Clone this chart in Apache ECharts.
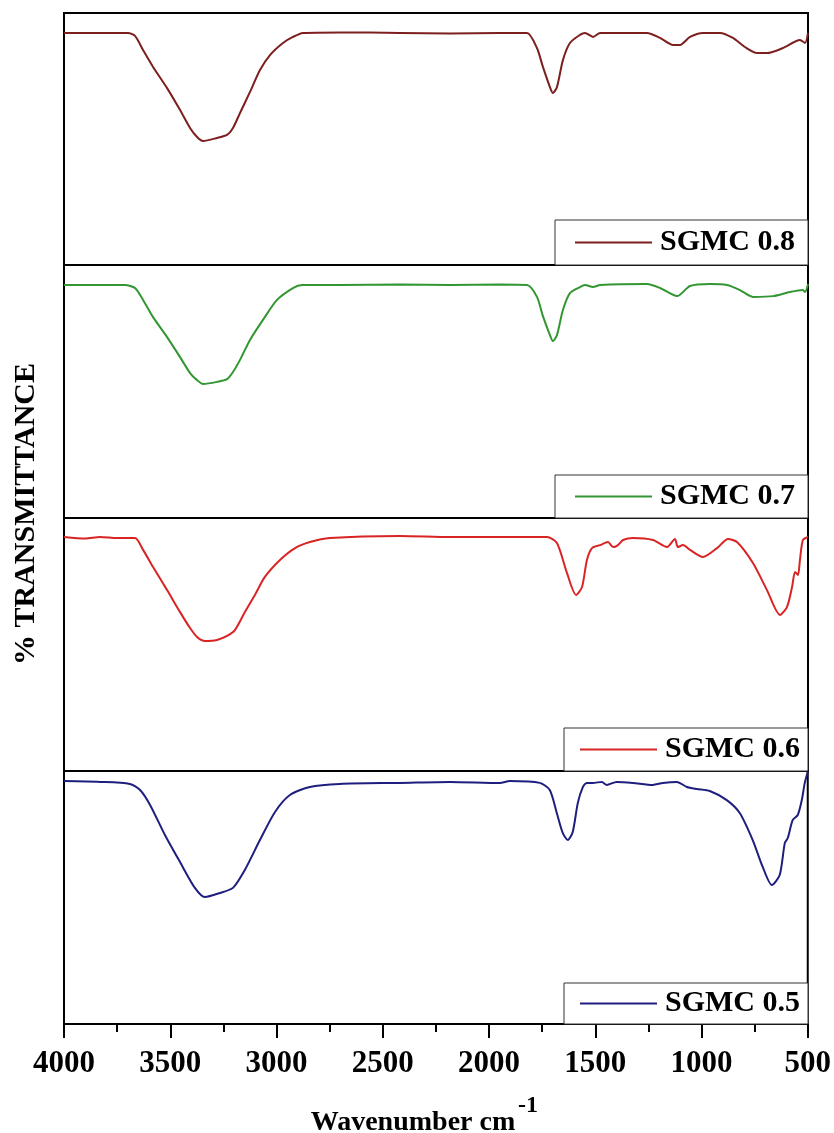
<!DOCTYPE html>
<html>
<head>
<meta charset="utf-8">
<script src="https://cdn.jsdelivr.net/npm/echarts@6/dist/echarts.min.js"></script>
<style>
  html, body { margin: 0; padding: 0; background: #fff; }
  #chart { width: 834px; height: 1133px; }
</style>
</head>
<body>
<div id="chart"></div>
<script>
// FTIR spectra of the SGMC samples: [wavenumber (cm-1), % transmittance]
const sgmc08 = [
  [4000, 92.1], [3831, 92.1], [3699, 92.1], [3666, 90.9], [3628, 85.3], [3581, 78.6],
  [3515, 70.2], [3454, 61.5], [3407, 54.4], [3374, 50.8], [3346, 49.2], [3280, 50.4],
  [3233, 51.6], [3205, 54.4], [3172, 60.3], [3125, 68.7], [3078, 77.4], [3031, 83.3],
  [2970, 88.1], [2923, 90.5], [2876, 92.1], [2702, 92.3], [2419, 92.1], [2184, 91.9],
  [1949, 92.1], [1822, 92.1], [1775, 86.1], [1747, 78.6], [1714, 70.6], [1700, 68.3],
  [1681, 70.6], [1653, 81.3], [1620, 88.1], [1573, 91.3], [1549, 92.1], [1511, 90.5],
  [1478, 92.1], [1257, 92.1], [1196, 90.1], [1135, 87.3], [1102, 87.3], [1055, 90.5],
  [994, 92.1], [914, 92.1], [853, 90.1], [797, 86.5], [740, 84.1], [693, 84.1],
  [618, 86.1], [538, 89.3], [514, 88.1], [500, 92.1]
];

const sgmc07 = [
  [4000, 92.1], [3831, 92.1], [3713, 92.1], [3666, 90.9], [3628, 86.2], [3581, 79.4],
  [3515, 71.5], [3454, 63.6], [3407, 57.3], [3374, 54.5], [3346, 53.0], [3280, 53.8],
  [3233, 54.9], [3205, 57.7], [3172, 62.5], [3125, 70.4], [3064, 78.3], [2998, 86.2],
  [2923, 90.9], [2880, 92.1], [2702, 92.1], [2419, 92.3], [2184, 92.1], [1949, 92.3],
  [1822, 92.1], [1775, 87.4], [1747, 79.8], [1714, 72.3], [1700, 69.9], [1681, 72.3],
  [1653, 82.2], [1620, 88.9], [1573, 91.3], [1549, 92.1], [1511, 91.3], [1478, 92.1],
  [1257, 92.5], [1196, 90.9], [1116, 87.7], [1055, 91.7], [961, 92.5], [881, 92.1],
  [820, 90.1], [759, 87.4], [664, 87.7], [585, 89.3], [524, 90.1], [514, 89.3],
  [500, 92.5]
];

const sgmc06 = [
  [4000, 92.5], [3900, 91.9], [3831, 92.5], [3750, 92.1], [3666, 92.1], [3628, 87.4],
  [3581, 80.6], [3515, 71.5], [3454, 62.8], [3407, 56.5], [3374, 53.0], [3337, 51.4],
  [3280, 51.8], [3233, 53.4], [3196, 55.7], [3149, 62.8], [3102, 69.6], [3055, 76.7],
  [2984, 83.4], [2913, 88.1], [2843, 90.5], [2749, 92.1], [2419, 92.9], [2184, 92.5],
  [1949, 92.5], [1728, 92.5], [1681, 90.1], [1634, 78.3], [1591, 69.6], [1563, 72.7],
  [1540, 83.4], [1516, 88.1], [1478, 89.3], [1441, 90.5], [1417, 88.5], [1394, 89.3],
  [1370, 91.3], [1323, 92.1], [1229, 91.3], [1163, 88.5], [1126, 91.7], [1112, 88.5],
  [1088, 89.3], [1055, 87.4], [994, 84.6], [928, 88.1], [876, 91.7], [834, 90.5],
  [759, 82.2], [693, 71.5], [632, 61.7], [599, 64.8], [575, 72.7], [561, 78.7],
  [547, 77.5], [538, 83.4], [524, 91.3], [500, 92.5]
];

const sgmc05 = [
  [4000, 96.0], [3831, 95.7], [3690, 94.9], [3642, 92.5], [3595, 86.6], [3525, 74.7],
  [3454, 64.0], [3384, 53.8], [3337, 50.2], [3266, 51.8], [3205, 53.8], [3149, 60.9],
  [3078, 72.7], [3007, 83.8], [2937, 90.5], [2843, 93.7], [2702, 94.9], [2419, 95.3],
  [2184, 95.7], [1949, 95.3], [1902, 96.0], [1761, 95.3], [1714, 92.5], [1681, 83.4],
  [1653, 75.5], [1629, 72.7], [1606, 75.9], [1582, 87.4], [1558, 93.7], [1540, 95.3],
  [1511, 95.3], [1469, 95.7], [1446, 94.5], [1399, 95.7], [1323, 95.3], [1229, 94.5],
  [1182, 95.3], [1116, 95.7], [1069, 93.7], [1022, 92.9], [961, 92.1], [881, 88.5],
  [820, 83.4], [759, 72.7], [712, 62.1], [669, 54.9], [632, 58.9], [608, 71.5],
  [594, 73.5], [571, 80.6], [547, 82.6], [528, 88.5], [514, 95.3], [500, 99.6]
];

const seriesNames = ['SGMC 0.8', 'SGMC 0.7', 'SGMC 0.6', 'SGMC 0.5'];
const seriesData = [sgmc08, sgmc07, sgmc06, sgmc05];
const seriesColors = ['#7d1f1f', '#329632', '#d92424', '#1e1e7e'];

const xMin = 500, xMax = 4000, xStep = 500;
const xTitle = 'Wavenumber cm';
const xTitleSup = '-1';
const yTitle = '% TRANSMITTANCE';

// panel layout (stacked, shared x range)
const panelTops = [13, 265, 518, 771];
const panelHeights = [252, 253, 253, 253];
const legendLayout = [
  { top: 220, padding: [7, 13, 7, 20] },
  { top: 475, padding: [6, 13, 6, 20] },
  { top: 728, padding: [6, 8, 6, 16] },
  { top: 983, padding: [5, 8, 5, 16] }
];

const serif = '"Liberation Serif", "Times New Roman", serif';

const grids = [], xAxes = [], yAxes = [], series = [], legends = [];
seriesNames.forEach((name, i) => {
  const last = i === seriesNames.length - 1;
  grids.push({
    left: 64, right: 26, top: panelTops[i], height: panelHeights[i],
    show: true, borderColor: '#000', borderWidth: 2, backgroundColor: 'transparent'
  });
  xAxes.push({
    gridIndex: i, type: 'value', min: xMin, max: xMax, interval: xStep, inverse: true,
    show: last,
    axisLine: { show: true, lineStyle: { color: '#000', width: 2 } },
    axisTick: { show: true, inside: false, length: 14, lineStyle: { color: '#000', width: 2 } },
    minorTick: { show: true, splitNumber: 2, length: 8, lineStyle: { color: '#000', width: 2 } },
    splitLine: { show: false },
    axisLabel: {
      show: true, margin: 24, color: '#000',
      fontFamily: serif, fontWeight: 'bold', fontSize: 31,
      formatter: (v) => String(v)
    }
  });
  yAxes.push({ gridIndex: i, type: 'value', min: 0, max: 100, show: false });
  series.push({
    name, type: 'line', xAxisIndex: i, yAxisIndex: i, data: seriesData[i],
    showSymbol: false, smooth: 0.25,
    lineStyle: { color: seriesColors[i], width: 2 },
    itemStyle: { color: seriesColors[i] },
    animation: false
  });
  legends.push({
    data: [name], right: 26, top: legendLayout[i].top,
    padding: legendLayout[i].padding,
    borderColor: '#333', borderWidth: 1, backgroundColor: '#fff',
    icon: 'rect', itemWidth: 77, itemHeight: 2, selectedMode: false,
    textStyle: {
      color: '#000', fontFamily: serif, fontWeight: 'bold', fontSize: 30,
      lineHeight: 31, padding: [0, 0, 0, 3]
    }
  });
});

const chart = echarts.init(document.getElementById('chart'), null, { renderer: 'canvas' });
chart.setOption({
  backgroundColor: '#fff',
  animation: false,
  grid: grids,
  xAxis: xAxes,
  yAxis: yAxes,
  legend: legends,
  series,
  graphic: [
    {
      type: 'text', x: 26, y: 514, rotation: Math.PI / 2,
      style: {
        text: yTitle, fill: '#000', font: 'bold 30px ' + serif,
        textAlign: 'center', textVerticalAlign: 'middle'
      }
    },
    {
      type: 'text', x: 413, y: 1123,
      style: {
        text: xTitle, fill: '#000', font: 'bold 28px ' + serif,
        textAlign: 'center', textVerticalAlign: 'middle'
      }
    },
    {
      type: 'text', x: 518, y: 1106,
      style: {
        text: xTitleSup, fill: '#000', font: 'bold 24px ' + serif,
        textAlign: 'left', textVerticalAlign: 'middle'
      }
    }
  ]
});
</script>
</body>
</html>
